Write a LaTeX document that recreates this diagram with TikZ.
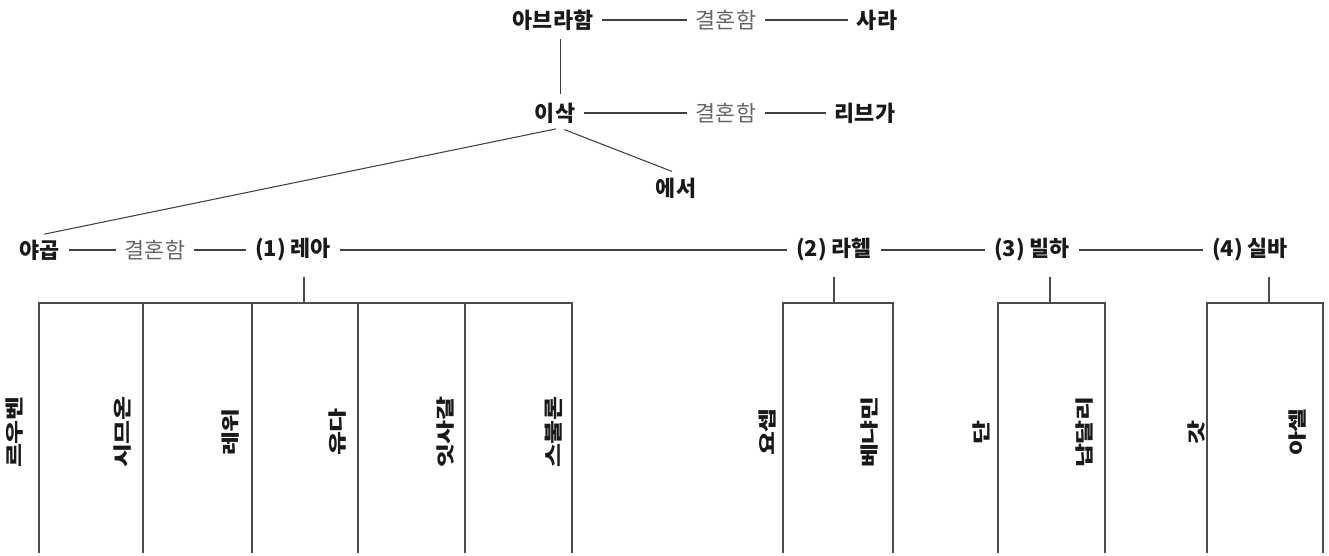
\documentclass[tikz,border=0pt]{standalone}
\usepackage{fontspec}
\setmainfont{Noto Sans CJK KR}
\begin{document}
\begin{tikzpicture}[x=0.02cm, y=-0.02cm,
    person_style/.style={font=\fontsize{12.4}{14}\selectfont\bfseries, text=black!90, inner sep=2.5pt},
    marriage_style/.style={font=\fontsize{12.4}{14}\selectfont, text=black!60, inner sep=2.5pt},
    son_style/.style={font=\fontsize{10.6}{12}\selectfont\bfseries, text=black!90, rotate=90, xscale=1.4, inner sep=0pt},
    edge_style/.style={draw=black!75, line width=0.6pt, shorten >=2.5pt, shorten <=2.5pt},
    box_style/.style={draw=black!70, line width=0.6pt}]

    \useasboundingbox (0,0) rectangle (1329,555);

    \node[person_style] (abraham) at (553,20) {아브라함};
    \node[marriage_style] (marry1) at (726,20) {결혼함};
    \node[person_style] (sarah) at (877,20) {사라};
    \node[person_style] (isaac) at (555,113) {이삭};
    \node[marriage_style] (marry2) at (726,113) {결혼함};
    \node[person_style] (rebekah) at (865,113) {리브가};
    \node[person_style] (esau) at (676,188) {에서};
    \node[person_style] (jacob) at (40,250) {야곱};
    \node[marriage_style] (marry3) at (155,250) {결혼함};
    \node[person_style] (leah) at (293,250) {(1) 레아};
    \node[person_style] (rachel) at (834,250) {(2) 라헬};
    \node[person_style] (bilhah) at (1032,250) {(3) 빌하};
    \node[person_style] (zilpah) at (1250,250) {(4) 실바};

    \draw[edge_style] (abraham) -- (marry1);
    \draw[edge_style] (marry1) -- (sarah);
    \draw[edge_style] ([xshift=4.5pt]abraham.south) -- ([xshift=4.5pt]abraham.south |- isaac.north);
    \draw[edge_style] (isaac) -- (marry2);
    \draw[edge_style] (marry2) -- (rebekah);
    \draw[edge_style] ([xshift=3pt]isaac.south) -- (jacob.north);
    \draw[edge_style] ([xshift=3pt]isaac.south) -- (esau.north);
    \draw[edge_style] (jacob) -- (marry3);
    \draw[edge_style] (marry3) -- (leah);
    \draw[edge_style] (leah) -- (rachel);
    \draw[edge_style] (rachel) -- (bilhah);
    \draw[edge_style] (bilhah) -- (zilpah);

    % children of each mother
    \foreach \mother/\stem/\left/\right in {leah/304/39/572, rachel/834/783/893, bilhah/1050/998/1105, zilpah/1269/1207/1323} {
        \coordinate (\mother_top) at (\stem,303);
        \draw[box_style] (\stem,277) -- (\mother_top);
        \draw[box_style] (\left,553) |- (\mother_top) -| (\right,553);
    }
    \foreach \x in {143,252,358,465}
        \draw[box_style] (\x,303) -- (\x,553);

    \foreach \x/\son in {15/르우벤, 123/시므온, 231/레위, 338/유다, 446/잇사갈, 554/스불론,
                         767/요셉, 869/베냐민, 981/단, 1085/납달리, 1196/갓, 1298/아셀}
        \node[son_style] (son\x) at (\x,432) {\son};
\end{tikzpicture}
\end{document}
